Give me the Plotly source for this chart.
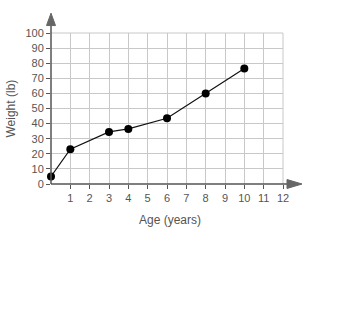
import plotly.graph_objects as go

ages = [0, 1, 3, 4, 6, 8, 10]
weights = [5, 23, 34.5, 36.5, 43.5, 60, 76.5]
x_ticks = list(range(1, 13))
y_ticks = list(range(0, 101, 10))

L, R, T, B = 51, 67, 32.5, 150.5
W, H = 350, 335
pw, ph = W - L - R, H - T - B

fig = go.Figure()
fig.add_trace(go.Scatter(
    x=ages, y=weights, mode="lines+markers",
    line=dict(color="#111111", width=1.2),
    marker=dict(color="#000000", size=8),
    cliponaxis=False, showlegend=False,
))

font = dict(family="Liberation Sans, Arial, sans-serif", size=11, color="#555555")

fig.update_layout(
    width=W, height=H,
    margin=dict(l=L, r=R, t=T, b=B, pad=0),
    paper_bgcolor="white", plot_bgcolor="white",
    font=font,
    xaxis=dict(range=[0, 12], tickvals=x_ticks, ticktext=[str(v) for v in x_ticks],
               showgrid=True, gridcolor="#c8c8c8", gridwidth=1, zeroline=False,
               showline=False, ticks="outside", ticklen=4, tickcolor="#555555",
               tickfont=font, fixedrange=True),
    yaxis=dict(range=[0, 100], tickvals=y_ticks, ticktext=[str(v) for v in y_ticks],
               showgrid=True, gridcolor="#c8c8c8", gridwidth=1, zeroline=False,
               showline=False, ticks="outside", ticklen=4, tickcolor="#555555",
               tickfont=font, fixedrange=True),
)

def px_x(p):
    return (p - L) / pw

def px_y(p):
    return (H - B - p) / ph

axis_color = "#555555"
# border grid lines (top & right)
fig.add_shape(type="line", xref="paper", yref="paper", x0=0, x1=1, y0=1, y1=1,
              line=dict(color="#c8c8c8", width=1), layer="below")
fig.add_shape(type="line", xref="paper", yref="paper", x0=1, x1=1, y0=0, y1=1,
              line=dict(color="#c8c8c8", width=1), layer="below")
# axis lines
fig.add_shape(type="line", xref="paper", yref="paper", x0=0, x1=px_x(289), y0=0, y1=0,
              line=dict(color=axis_color, width=1.5))
fig.add_shape(type="line", xref="paper", yref="paper", x0=0, x1=0, y0=0, y1=px_y(23),
              line=dict(color=axis_color, width=1.5))
# arrowheads
fig.add_shape(type="path", xref="paper", yref="paper",
              path=f"M {px_x(287)} {px_y(180)} L {px_x(302)} {px_y(184.5)} L {px_x(287)} {px_y(189)} Z",
              fillcolor="#666666", line=dict(color="#666666", width=1))
fig.add_shape(type="path", xref="paper", yref="paper",
              path=f"M {px_x(46.5)} {px_y(25)} L {px_x(51)} {px_y(12.5)} L {px_x(55.5)} {px_y(25)} Z",
              fillcolor="#666666", line=dict(color="#666666", width=1))

title_font = dict(family="Liberation Sans, Arial, sans-serif", size=12, color="#555555")
fig.add_annotation(text="Age (years)", xref="paper", yref="paper",
                   x=px_x(169.5), y=px_y(221), showarrow=False, font=title_font,
                   xanchor="center", yanchor="middle")
fig.add_annotation(text="Weight (lb)", xref="paper", yref="paper",
                   x=px_x(10), y=px_y(108.5), showarrow=False, font=title_font,
                   textangle=-90, xanchor="center", yanchor="middle")

fig.write_html("out.html")
